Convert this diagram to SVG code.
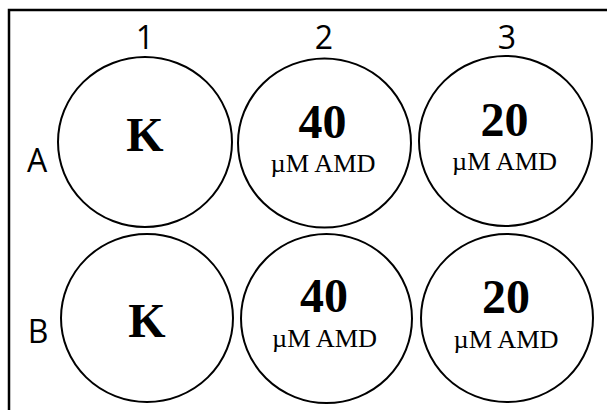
<svg xmlns="http://www.w3.org/2000/svg" width="607" height="410" viewBox="0 0 607 410">
<style>
.well{fill:#fff;stroke:#000;stroke-width:2}
.big{font-family:"Liberation Serif","Times New Roman",serif;font-weight:bold;font-size:48px;text-anchor:middle;fill:#000}
.unit{font-family:"Liberation Serif","Times New Roman",serif;font-size:25px;text-anchor:middle;fill:#000}
.lab{font-family:"Open Sans","Liberation Sans",sans-serif;font-size:32px;text-anchor:middle;fill:#000}
</style>
<rect x="0" y="0" width="607" height="410" fill="#fff"/>
<path d="M9 420 V10 H620" fill="none" stroke="#000" stroke-width="2.5"/>
<g id="labels">
<text class="lab" x="145" y="49">1</text>
<text class="lab" x="324" y="49">2</text>
<text class="lab" x="507" y="49">3</text>
<text class="lab" x="37" y="172">A</text>
<text class="lab" x="38" y="343">B</text>
</g>
<g id="A1"><ellipse class="well" cx="145" cy="142" rx="87" ry="85"/><text class="big" x="145" y="151">K</text></g>
<g id="A2"><ellipse class="well" cx="324.5" cy="143" rx="86.5" ry="84.5"/><text class="big" x="322.5" y="138">40</text><text class="unit" x="323" y="172" textLength="105" lengthAdjust="spacingAndGlyphs">µM AMD</text></g>
<g id="A3"><ellipse class="well" cx="505.5" cy="141" rx="86.5" ry="85"/><text class="big" x="504.5" y="136">20</text><text class="unit" x="504.5" y="170" textLength="105" lengthAdjust="spacingAndGlyphs">µM AMD</text></g>
<g id="B1"><ellipse class="well" cx="147" cy="318" rx="86" ry="84"/><text class="big" x="147" y="337">K</text></g>
<g id="B2"><ellipse class="well" cx="326.5" cy="318.5" rx="85.5" ry="84.5"/><text class="big" x="324" y="312">40</text><text class="unit" x="324.5" y="347" textLength="105" lengthAdjust="spacingAndGlyphs">µM AMD</text></g>
<g id="B3"><ellipse class="well" cx="507" cy="318" rx="86" ry="84"/><text class="big" x="506" y="313">20</text><text class="unit" x="506" y="348" textLength="105" lengthAdjust="spacingAndGlyphs">µM AMD</text></g>
<g id="connectors"/>
</svg>
